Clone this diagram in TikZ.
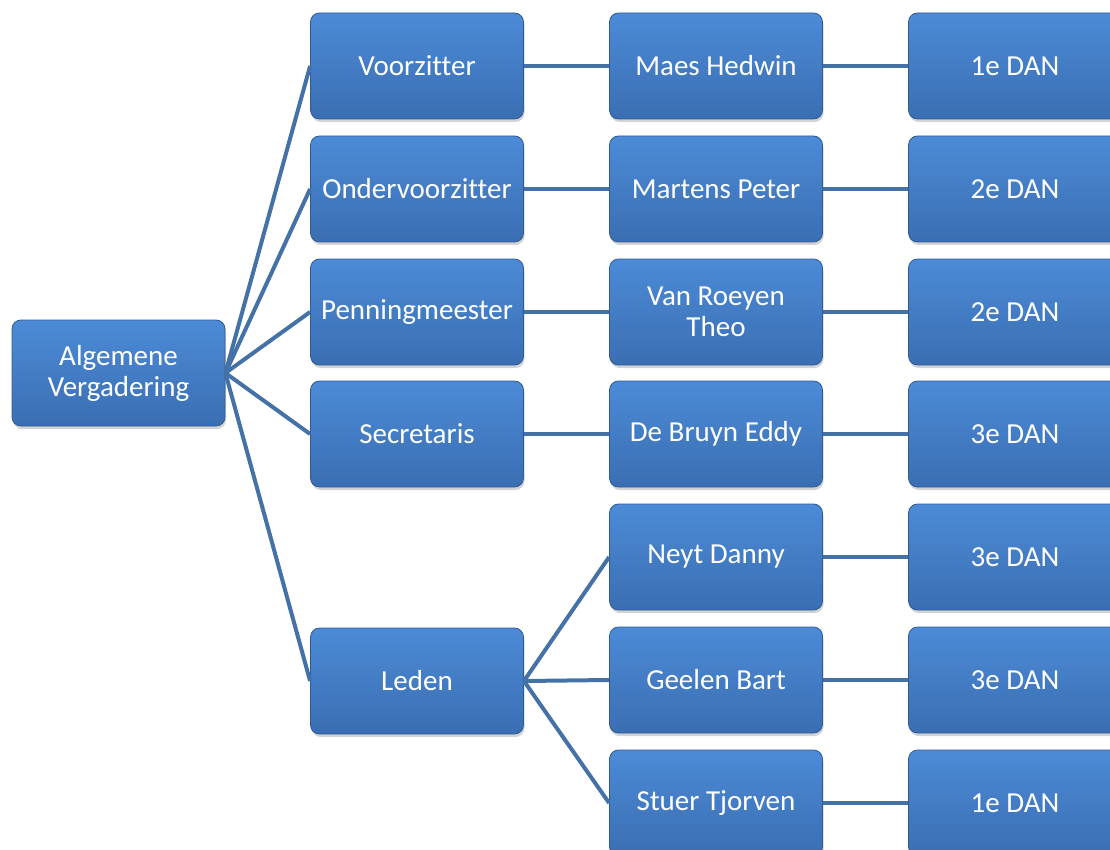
\documentclass[tikz,border=0pt]{standalone}
\usepackage{fontspec}
\setmainfont[Ligatures={NoCommon}]{Carlito}
\usetikzlibrary{shadows,calc}
\definecolor{boxtop}{RGB}{76,139,215}
\definecolor{boxbot}{RGB}{58,110,178}
\definecolor{boxedge}{RGB}{48,90,148}
\definecolor{linec}{RGB}{68,114,166}
\begin{document}
\begin{tikzpicture}[x=1pt,y=-1pt,
  box/.style={rectangle, rounded corners=9pt, minimum width=213pt, minimum height=106pt,
    top color=boxtop, bottom color=boxbot, draw=boxedge, line width=0.8pt,
    text=white, font=\fontsize{29}{31}\selectfont, align=center, inner sep=2pt,
    drop shadow={opacity=0.35, shadow xshift=1pt, shadow yshift=-3pt}},
  conn/.style={draw=linec, line width=4pt}]
\useasboundingbox (0,0) rectangle (1110,850);
\begin{scope}
\clip (0,0) rectangle (1110,850);
% column 1
\node[box] (av) at (118.5,373) {Algemene\\Vergadering};
% column 2
\node[box] (vz) at (417,66) {Voorzitter};
\node[box] (ovz) at (417,189) {Ondervoorzitter};
\node[box] (pm) at (417,312) {Penningmeester};
\node[box] (sec) at (417,434) {Secretaris};
\node[box] (led) at (417,681) {Leden};
% column 3
\node[box] (p1) at (716,66) {Maes Hedwin};
\node[box] (p2) at (716,189) {Martens Peter};
\node[box] (p3) at (716,312) {Van Roeyen\\Theo};
\node[box] (p4) at (716,434) {De Bruyn Eddy};
\node[box] (p5) at (716,557) {Neyt Danny};
\node[box] (p6) at (716,680) {Geelen Bart};
\node[box] (p7) at (716,803) {Stuer Tjorven};
% column 4
\node[box] (d1) at (1015,66) {1e DAN};
\node[box] (d2) at (1015,189) {2e DAN};
\node[box] (d3) at (1015,312) {2e DAN};
\node[box] (d4) at (1015,434) {3e DAN};
\node[box] (d5) at (1015,557) {3e DAN};
\node[box] (d6) at (1015,680) {3e DAN};
\node[box] (d7) at (1015,803) {1e DAN};
% connectors
\foreach \t in {vz,ovz,pm,sec,led} \draw[conn] (av.east) -- (\t.west);
\draw[conn] (vz.east) -- (p1.west);
\draw[conn] (ovz.east) -- (p2.west);
\draw[conn] (pm.east) -- (p3.west);
\draw[conn] (sec.east) -- (p4.west);
\foreach \t in {p5,p6,p7} \draw[conn] (led.east) -- (\t.west);
\draw[conn] (p1.east) -- (d1.west);
\draw[conn] (p2.east) -- (d2.west);
\draw[conn] (p3.east) -- (d3.west);
\draw[conn] (p4.east) -- (d4.west);
\draw[conn] (p5.east) -- (d5.west);
\draw[conn] (p6.east) -- (d6.west);
\draw[conn] (p7.east) -- (d7.west);
\end{scope}
\end{tikzpicture}
\end{document}
